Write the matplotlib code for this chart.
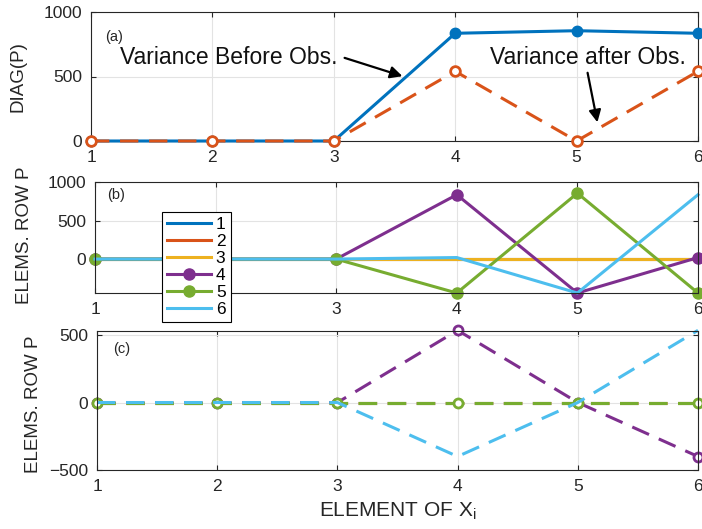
import matplotlib
matplotlib.use('Agg')
import matplotlib.pyplot as plt
import numpy as np

plt.rcParams['font.family'] = ['Liberation Sans', 'DejaVu Sans']

# element index of the state vector
elem = [1, 2, 3, 4, 5, 6]

# (a) diagonal of P before / after the observation
diag_before = [0, 0, 0, 835, 855, 835]
diag_after = [0, 0, 0, 540, 0, 540]

# (b) rows of P before the observation
rows_before = {
    '1': [0, 0, 0, 0, 0, 0],
    '2': [0, 0, 0, 0, 0, 0],
    '3': [0, 0, 0, 0, 0, 0],
    '4': [0, 0, 0, 835, -440, 20],
    '5': [0, 0, 0, -440, 855, -440],
    '6': [0, 0, 0, 20, -440, 835],
}

# (c) rows of P after the observation
rows_after = {
    '1': [0, 0, 0, 0, 0, 0],
    '2': [0, 0, 0, 0, 0, 0],
    '3': [0, 0, 0, 0, 0, 0],
    '4': [0, 0, 0, 535, 0, -400],
    '5': [0, 0, 0, 0, 0, 0],
    '6': [0, 0, 0, -400, 0, 535],
}

colors = ['#0072BD', '#D95319', '#EDB120', '#7E2F8E', '#77AC30', '#4DBEEE']
with_marker = ['4', '5']
txt = '#262626'

fig = plt.figure(figsize=(7.02, 5.29), dpi=100)
W, H = 702.0, 529.0


def make_ax(l, t, r, b):
    ax = fig.add_axes([l / W, 1 - b / H, (r - l) / W, (b - t) / H])
    ax.set_xlim(1, 6)
    ax.set_xticks(elem)
    ax.grid(True, color='#e3e3e3', lw=0.8)
    ax.set_axisbelow(True)
    ax.tick_params(direction='in', length=3.5, width=0.8, top=True, right=True,
                   labelsize=12.5, pad=6.5, colors=txt)
    for s in ax.spines.values():
        s.set_color(txt)
        s.set_linewidth(0.8)
    return ax


# panel (a)
ax = make_ax(91, 12, 698, 141)
ax.plot(elem, diag_before, '-o', color=colors[0], lw=2.2, ms=7.5, clip_on=False, zorder=3)
ax.plot(elem, diag_after, '--o', color=colors[1], lw=2.2, ms=7, mfc='white', mew=2,
        dashes=(6, 3.5), clip_on=False, zorder=4)
ax.set_ylim(0, 1000)
ax.set_yticks([0, 500, 1000])
ax.set_ylabel('DIAG(P)', fontsize=13.5, color=txt)
ax.yaxis.set_label_coords(-0.107, 0.5)
ax.text(0.023, 0.81, '(a)', transform=ax.transAxes, fontsize=10.5, color=txt, va='center')
ax.text(3.03, 645, 'Variance Before Obs.', fontsize=16.5, ha='right', va='center', color='#111111')
ax.annotate('', xy=(3.587, 496), xytext=(3.067, 651),
            arrowprops=dict(arrowstyle='-|>', color='black', lw=1.6, mutation_scale=18))
ax.text(5.09, 651, 'Variance after Obs.', fontsize=16.5, ha='center', va='center', color='#111111')
ax.annotate('', xy=(5.176, 124), xytext=(5.086, 550),
            arrowprops=dict(arrowstyle='-|>', color='black', lw=1.6, mutation_scale=18))

# panel (b)
ax = make_ax(95, 182, 698, 293)
handles = []
for i, (k, v) in enumerate(rows_before.items()):
    if k in with_marker:
        h, = ax.plot(elem, v, '-o', color=colors[i], lw=2.2, ms=8, clip_on=False, label=k)
    else:
        h, = ax.plot(elem, v, '-', color=colors[i], lw=2.2, clip_on=False, label=k)
    handles.append(h)
ax.set_ylim(-440, 1000)
ax.set_yticks([0, 500, 1000])
# tick "2" sits under the legend
ax.set_xticklabels(['1', '', '3', '4', '5', '6'])
ax.set_ylabel('ELEMS. ROW P', fontsize=13.5, color=txt)
ax.yaxis.set_label_coords(-0.103, 0.52)
ax.text(0.02, 0.88, '(b)', transform=ax.transAxes, fontsize=10.5, color=txt, va='center')

leg = fig.legend(handles=handles, loc='upper left', bbox_to_anchor=(162 / W, 1 - 212 / H),
                 bbox_transform=fig.transFigure, fontsize=12.5, labelspacing=0.1,
                 handlelength=2.5, handletextpad=0.3, borderpad=0.3, borderaxespad=0,
                 fancybox=False, framealpha=1, edgecolor='black')
leg.get_frame().set_linewidth(0.8)

# panel (c)
ax = make_ax(97, 331, 698, 470)
for i, (k, v) in enumerate(rows_after.items()):
    if k in with_marker:
        ax.plot(elem, v, '--o', color=colors[i], lw=2.2, ms=6.5, mfc='white', mew=2,
                dashes=(6, 3.5), clip_on=False)
    else:
        ax.plot(elem, v, '--', color=colors[i], lw=2.2, dashes=(6, 3.5), clip_on=False)
ax.set_ylim(-500, 530)
ax.set_yticks([-500, 0, 500])
ax.set_ylabel('ELEMS. ROW P', fontsize=13.5, color=txt)
ax.yaxis.set_label_coords(-0.092, 0.47)
ax.set_xlabel('ELEMENT OF X$_\\mathregular{i}$', fontsize=15, color=txt)
ax.xaxis.set_label_coords(0.5, -0.22)
ax.text(0.027, 0.87, '(c)', transform=ax.transAxes, fontsize=10.5, color=txt, va='center')

fig.savefig('out.png', dpi=100)
